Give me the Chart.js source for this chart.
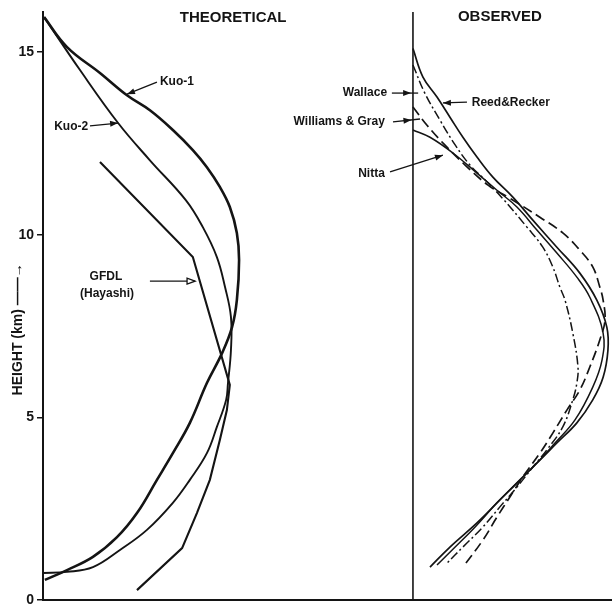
<!DOCTYPE html>
<html>
<head>
<meta charset="utf-8">
<script src="https://cdn.jsdelivr.net/npm/chart.js@4"></script>
<style>
  body { margin: 0; background: #fff; }
  canvas { display: block; }
</style>
</head>
<body>
<canvas id="ProfileChart" width="612" height="605"></canvas>
<script>
// x = arbitrary amplitude units (left panel 0..100 from axis to divider),
// y = height in km. Observed profiles are measured from the divider.
const OBS_SHIFT = 100;
const X_MAX = 153.8;
const Y_MAX = 16.1;
const heightTicks = [0, 5, 10, 15];

const kuo1 = [[0.3,15.96],[6.5,15.14],[15.4,14.43],[22.7,13.82],[28.9,13.41],[35.1,12.87],[40.5,12.32],[44.3,11.85],[47.8,11.31],[50.5,10.76],[52.4,10.05],[53.0,9.31],[52.4,8.21],[51.1,7.47],[48.4,6.76],[44.3,5.94],[39.7,4.85],[35.1,4.02],[30.8,3.29],[25.4,2.38],[20.0,1.72],[13.5,1.18],[6.5,0.82],[0.5,0.55]];
const kuo2 = [[0.3,15.96],[10.0,14.51],[20.3,13.06],[28.9,12.04],[38.6,10.95],[43.2,10.21],[47.0,9.39],[49.2,8.57],[50.8,7.75],[50.8,6.84],[50.0,5.94],[49.5,5.48],[47.0,4.74],[44.3,4.02],[39.7,3.29],[35.1,2.66],[28.1,1.92],[20.8,1.37],[13.5,0.90],[6.5,0.77],[0,0.74]];
const gfdl = [[15.4,11.99],[40.5,9.39],[50.5,5.89],[49.7,5.20],[47.8,4.38],[45.1,3.29],[41.6,2.38],[37.6,1.42],[25.4,0.27]];

const reedRecker = [[0,15.1],[2.7,14.32],[6.5,13.77],[10.0,13.22],[13.5,12.67],[17.3,12.13],[21.6,11.58],[27.0,11.03],[32.4,10.40],[38.9,9.66],[45.1,8.95],[49.7,8.21],[52.4,7.47],[52.7,6.84],[51.4,6.10],[48.6,5.48],[44.3,4.85],[38.9,4.30],[34.3,3.83],[28.9,3.29],[23.5,2.74],[17.3,2.11],[10.0,1.45],[4.6,0.90]];
const nitta = [[0,12.87],[4.6,12.67],[10.8,12.24],[17.3,11.69],[22.7,11.22],[28.1,10.76],[33.5,10.13],[38.9,9.50],[44.3,8.84],[47.8,8.29],[51.4,7.31],[51.1,6.57],[48.6,5.83],[43.8,4.93],[38.4,4.30],[33.5,3.75],[28.1,3.20],[22.7,2.66],[16.8,2.00],[11.4,1.45],[6.5,0.96]];
const wallace = [[0,14.65],[3.2,13.88],[7.3,13.14],[11.4,12.46],[15.4,11.91],[19.5,11.50],[24.1,11.01],[30.8,10.21],[35.1,9.66],[37.8,9.12],[39.7,8.57],[41.1,8.21],[43.2,7.31],[44.6,6.38],[44.3,5.94],[43.2,5.48],[40.5,4.74],[36.2,4.11],[32.4,3.64],[28.1,3.09],[23.5,2.55],[18.9,2.00],[13.5,1.45],[9.2,1.01]];
const williamsGray = [[0,13.50],[3.8,13.00],[8.6,12.46],[14.1,11.91],[20.3,11.36],[26.2,11.00],[34.3,10.48],[40.5,10.05],[45.1,9.58],[48.6,9.12],[50.5,8.57],[51.4,8.21],[51.9,7.66],[50.5,7.12],[47.8,6.38],[45.1,5.75],[41.6,5.20],[37.8,4.57],[34.3,4.02],[29.7,3.37],[26.2,2.82],[22.7,2.27],[18.9,1.64],[13.5,0.90]];

const divider = [[OBS_SHIFT, 0], [OBS_SHIFT, Y_MAX]];

const panelTitles = [
    { text: "THEORETICAL", x: 51.4, y: 15.93 },
    { text: "OBSERVED", x: 123.5, y: 15.96 }
];

const curveLabels = [
    { text: "Kuo-1", x: 31.6, y: 14.18, align: "left" },
    { text: "Kuo-2", x: 12.2, y: 12.95, align: "right" },
    { text: "GFDL", x: 17.0, y: 8.84, align: "center" },
    { text: "(Hayashi)", x: 17.3, y: 8.40, align: "center" },
    { text: "Wallace", x: 93.0, y: 13.88, align: "right" },
    { text: "Williams & Gray", x: 92.4, y: 13.09, align: "right" },
    { text: "Nitta", x: 92.4, y: 11.66, align: "right" },
    { text: "Reed&Recker", x: 115.9, y: 13.63, align: "left" }
];

const pointers = [
    { from: [30.8, 14.18], to: [22.7, 13.85] },
    { from: [12.7, 12.98], to: [20.3, 13.06] },
    { from: [28.9, 8.73], to: [41.1, 8.73], open: true },
    { from: [94.3, 13.88], to: [101.4, 13.88], tip: 99.5 },
    { from: [94.6, 13.09], to: [101.9, 13.17], tip: 99.6 },
    { from: [93.8, 11.72], to: [108.1, 12.18] },
    { from: [114.6, 13.63], to: [108.1, 13.61] }
];

const INK = "#141414";
const FONT = '"Liberation Sans", Arial, sans-serif';

function toPoints(list, shift) {
    return list.map(p => ({ x: p[0] + shift, y: p[1] }));
}

function profile(list, shift, width, dash, tension) {
    return {
        data: toPoints(list, shift),
        borderColor: INK,
        borderWidth: width,
        borderDash: dash,
        tension: tension,
        pointRadius: 0,
        fill: false
    };
}

function drawHead(ctx, x1, y1, x2, y2, open) {
    const a = Math.atan2(y2 - y1, x2 - x1);
    const len = 8, half = 3;
    const bx = x2 - len * Math.cos(a), by = y2 - len * Math.sin(a);
    ctx.beginPath();
    ctx.moveTo(x2, y2);
    ctx.lineTo(bx + half * Math.sin(a), by - half * Math.cos(a));
    ctx.lineTo(bx - half * Math.sin(a), by + half * Math.cos(a));
    ctx.closePath();
    if (open) {
        ctx.fillStyle = "#fff";
        ctx.fill();
        ctx.stroke();
        ctx.fillStyle = INK;
    } else {
        ctx.fill();
    }
}

const notesPlugin = {
    id: "notes",
    afterDatasetsDraw(chart) {
        const { ctx, scales: { x, y } } = chart;
        ctx.save();
        ctx.fillStyle = INK;
        ctx.strokeStyle = INK;
        ctx.textBaseline = "middle";

        ctx.font = "bold 15px " + FONT;
        ctx.textAlign = "center";
        panelTitles.forEach(t => ctx.fillText(t.text, x.getPixelForValue(t.x), y.getPixelForValue(t.y)));

        ctx.font = "bold 12px " + FONT;
        curveLabels.forEach(t => {
            ctx.textAlign = t.align;
            ctx.fillText(t.text, x.getPixelForValue(t.x), y.getPixelForValue(t.y));
        });

        ctx.lineWidth = 1.3;
        pointers.forEach(p => {
            const x1 = x.getPixelForValue(p.from[0]), y1 = y.getPixelForValue(p.from[1]);
            const x2 = x.getPixelForValue(p.to[0]), y2 = y.getPixelForValue(p.to[1]);
            ctx.beginPath();
            ctx.moveTo(x1, y1);
            ctx.lineTo(x2, y2);
            ctx.stroke();
            if (p.tip !== undefined) {
                const t = (p.tip - p.from[0]) / (p.to[0] - p.from[0]);
                drawHead(ctx, x1, y1, x1 + (x2 - x1) * t, y1 + (y2 - y1) * t, false);
            } else {
                drawHead(ctx, x1, y1, x2, y2, p.open);
            }
        });
        ctx.restore();
    }
};

const ctx = document.getElementById("ProfileChart").getContext("2d");

const chart = new Chart(ctx, {
    type: "line",
    data: {
        datasets: [
            profile(kuo1, 0, 2.6, [], 0.4),
            profile(kuo2, 0, 1.9, [], 0.4),
            profile(gfdl, 0, 2.1, [], 0),
            profile(reedRecker, OBS_SHIFT, 1.7, [], 0.4),
            profile(nitta, OBS_SHIFT, 1.5, [], 0.4),
            profile(wallace, OBS_SHIFT, 1.5, [9, 3, 2, 3], 0.4),
            profile(williamsGray, OBS_SHIFT, 1.7, [10, 5], 0.4),
            profile(divider, 0, 1.6, [], 0)
        ]
    },
    options: {
        responsive: false,
        animation: false,
        layout: { padding: { top: 12, bottom: 5, left: 0, right: 0 } },
        plugins: {
            legend: { display: false },
            tooltip: { enabled: false }
        },
        scales: {
            x: {
                type: "linear",
                min: 0,
                max: X_MAX,
                ticks: { display: false },
                grid: { display: false },
                border: { display: true, color: INK, width: 2 },
                afterFit(scale) {
                    scale.height = 0;
                    scale.paddingLeft = 0;
                    scale.paddingRight = 0;
                }
            },
            y: {
                type: "linear",
                min: 0,
                max: Y_MAX,
                afterBuildTicks(scale) {
                    scale.ticks = heightTicks.map(v => ({ value: v }));
                },
                ticks: {
                    color: INK,
                    padding: 3,
                    font: { family: FONT, size: 14, weight: "bold" }
                },
                grid: {
                    drawOnChartArea: false,
                    tickLength: 6,
                    color: INK,
                    lineWidth: 1.5
                },
                border: { display: true, color: INK, width: 2 },
                title: {
                    display: true,
                    text: "HEIGHT (km) \u2014\u2014\u2192            ",
                    color: INK,
                    padding: { top: 10, bottom: 0 },
                    font: { family: FONT, size: 14, weight: "bold" }
                },
                afterFit(scale) {
                    scale.width = 43;
                    scale.paddingTop = 0;
                    scale.paddingBottom = 0;
                }
            }
        }
    },
    plugins: [notesPlugin]
});
</script>
</body>
</html>
